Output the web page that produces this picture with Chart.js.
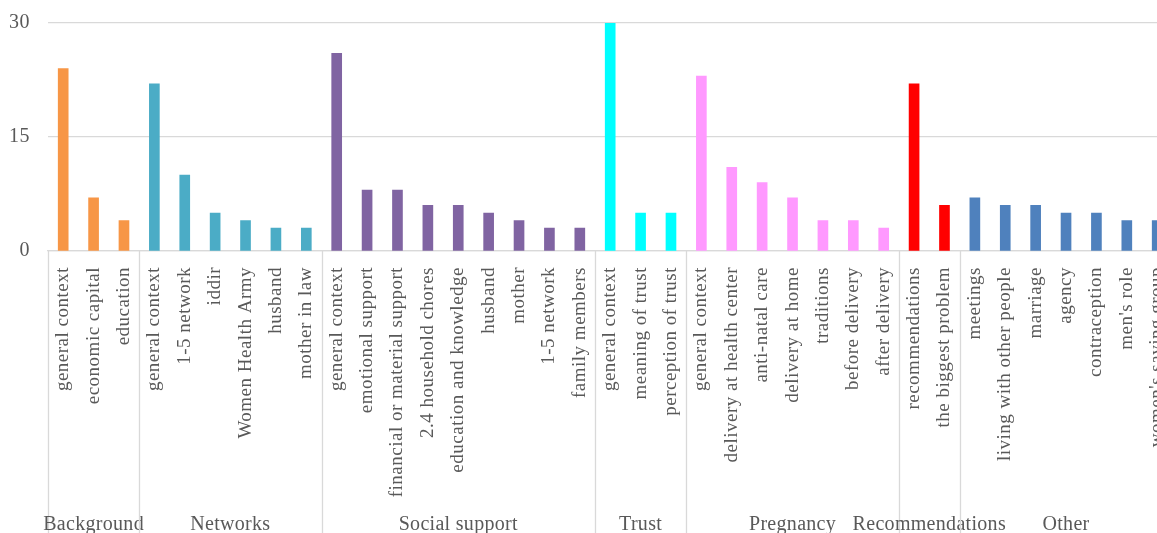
<!DOCTYPE html>
<html>
<head>
<meta charset="utf-8">
<script src="https://cdn.jsdelivr.net/npm/chart.js@4.4.1/dist/chart.umd.min.js"></script>
<style>
  html, body { margin: 0; padding: 0; background: #fff; overflow: hidden; }
  #chartContainer { width: 1188px; height: 533px; position: relative; }
</style>
</head>
<body>
<div id="chartContainer"><canvas id="chart"></canvas></div>
<script>
const groupNames = ['Background', 'Networks', 'Social support', 'Trust', 'Pregnancy', 'Recommendations', 'Other']
const groupSizes = [3, 6, 9, 3, 7, 2, 7]

const categories = [
    'general context', 'economic capital', 'education',
    'general context', '1-5 network', 'iddir', 'Women Health Army', 'husband', 'mother in law',
    'general context', 'emotional support', 'financial or material support', '2.4 household chores',
    'education and knowledge', 'husband', 'mother', '1-5 network', 'family members',
    'general context', 'meaning of trust', 'perception of trust',
    'general context', 'delivery at health center', 'anti-natal care', 'delivery at home',
    'traditions', 'before delivery', 'after delivery',
    'recommendations', 'the biggest problem',
    'meetings', 'living with other people', 'marriage', 'agency', 'contraception', "men's role",
    "women's saving group"
]

const counts = [
    24, 7, 4,
    22, 10, 5, 4, 3, 3,
    26, 8, 8, 6, 6, 5, 4, 3, 3,
    30, 5, 5,
    23, 11, 9, 7, 4, 4, 3,
    22, 6,
    7, 6, 6, 5, 5, 4, 4
]

const yTicks = [0, 15, 30]

const groupColors = ['#f79646', '#4bacc6', '#8064a2', '#00ffff', '#ff99ff', '#ff0000', '#4f81bd']
const textColor = '#595959'
const lineColor = '#d9d9d9'
const fontFamily = "'Liberation Serif', 'Times New Roman', serif"

// colour of each bar from its group
const barColors = []
groupSizes.forEach((n, g) => {
    for (let i = 0; i < n; i++) barColors.push(groupColors[g])
})

const spacingPlugin = {
    id: 'spacing',
    beforeUpdate(chart) { chart.ctx.letterSpacing = '0.5px' },
    beforeDraw(chart) { chart.ctx.letterSpacing = '0.5px' }
}

const groupPlugin = {
    id: 'groups',
    afterDraw(chart) {
        const ctx = chart.ctx
        const x = chart.scales.x
        const step = x.getPixelForValue(1) - x.getPixelForValue(0)
        const top = chart.chartArea.bottom
        ctx.save()
        ctx.letterSpacing = '0.3px'
        ctx.strokeStyle = lineColor
        ctx.lineWidth = 1.3
        ctx.fillStyle = textColor
        ctx.font = '20px ' + fontFamily
        ctx.textAlign = 'center'
        ctx.textBaseline = 'middle'
        let start = 0
        groupSizes.forEach((n, g) => {
            const left = x.getPixelForValue(start) - step / 2
            const right = x.getPixelForValue(start + n - 1) + step / 2
            ctx.beginPath()
            ctx.moveTo(Math.round(left) + 0.5, top)
            ctx.lineTo(Math.round(left) + 0.5, chart.height)
            ctx.stroke()
            ctx.fillText(groupNames[g], (left + right) / 2, chart.height - 8)
            start += n
        })
        ctx.restore()
    }
}

const ctx = document.getElementById('chart').getContext('2d')

new Chart(ctx, {
    type: 'bar',
    data: {
        labels: categories,
        datasets: [{
            data: counts,
            backgroundColor: barColors,
            borderWidth: 0,
            barThickness: 10
        }]
    },
    options: {
        responsive: true,
        maintainAspectRatio: false,
        animation: false,
        layout: { padding: { top: 23, left: 0, right: 0, bottom: 0 } },
        plugins: {
            legend: { display: false },
            tooltip: { enabled: false }
        },
        scales: {
            x: {
                grid: { display: false },
                border: { color: lineColor, width: 1.3 },
                ticks: {
                    autoSkip: false,
                    minRotation: 90,
                    maxRotation: 90,
                    padding: 8,
                    color: textColor,
                    font: { family: fontFamily, size: 19 }
                },
                afterFit(scale) { scale.height = 282 }
            },
            y: {
                min: 0,
                max: 30,
                afterBuildTicks(scale) { scale.ticks = yTicks.map(v => ({ value: v })) },
                grid: { color: lineColor, lineWidth: 1.3, drawTicks: true, tickLength: 18, tickColor: 'rgba(0,0,0,0)' },
                border: { display: false },
                ticks: {
                    padding: 0,
                    color: textColor,
                    font: { family: fontFamily, size: 20 }
                },
                afterFit(scale) { scale.width = 48 }
            }
        }
    },
    plugins: [spacingPlugin, groupPlugin]
})
</script>
</body>
</html>
